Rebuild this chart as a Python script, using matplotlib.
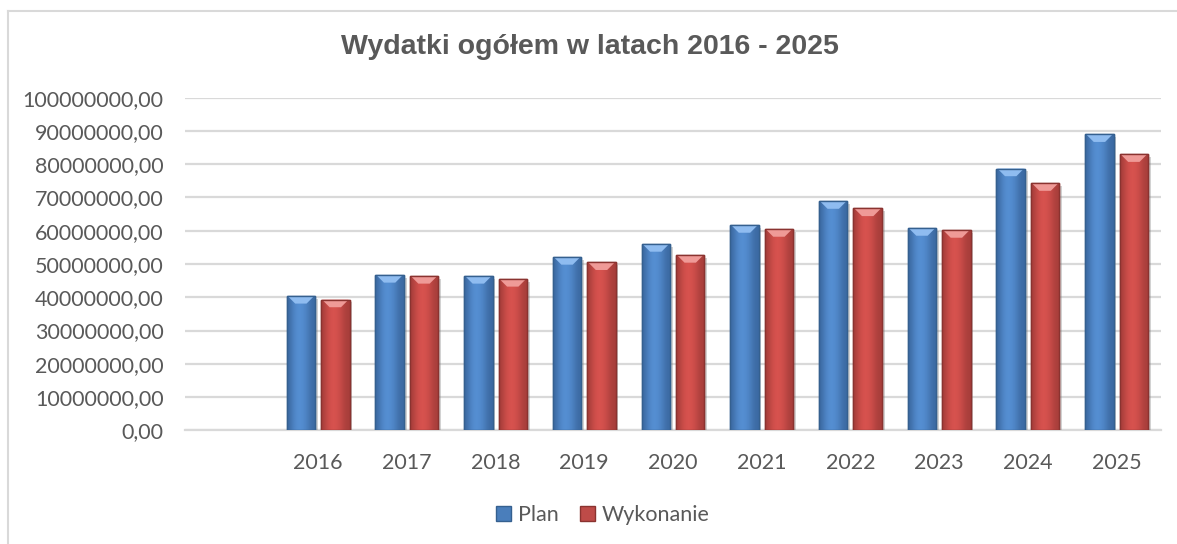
import numpy as np
import matplotlib
matplotlib.use("Agg")
import matplotlib.pyplot as plt
from matplotlib.patches import Patch, Polygon
from matplotlib.lines import Line2D
import matplotlib.patheffects as pe
from matplotlib.colors import LinearSegmentedColormap

# ---- data ----
categories = ["", "2016", "2017", "2018", "2019", "2020", "2021", "2022", "2023", "2024", "2025"]
plan = [np.nan, 40.4e6, 46.7e6, 46.4e6, 52.1e6, 56.0e6, 61.7e6, 68.9e6, 60.8e6, 78.7e6, 89.0e6]
wykonanie = [np.nan, 39.3e6, 46.4e6, 45.5e6, 50.5e6, 52.7e6, 60.5e6, 66.7e6, 60.2e6, 74.3e6, 83.0e6]
series_names = ["Plan", "Wykonanie"]
title = "Wydatki ogółem w latach 2016 - 2025"
yticks = np.arange(0, 100e6 + 1, 10e6)

# ---- style ----
W, H = 1177, 544
fig = plt.figure(figsize=(W / 100, H / 100), dpi=100)
ax = fig.add_axes([185 / W, 1 - 430.3 / H, (1161 - 185) / W, (430.3 - 97.7) / H])

txt_color = "#595959"
grid_color = "#d9d9d9"
tick_font = "Lato"
tick_size = 15.5

styles = [
    dict(edge="#35608f", dark="#3c6aa3", light="#5690d4", bevel="#8fbcf0", legend="#4a7ebb"),
    dict(edge="#8a3330", dark="#a83e3b", light="#d9534f", bevel="#ef9a97", legend="#be4b48"),
]

bw = 0.32
gap = 0.068
offsets = [-(bw / 2 + gap / 2), (bw / 2 + gap / 2)]
x = np.arange(len(categories))

ax.set_xlim(-0.5, len(categories) - 0.5)
ax.set_ylim(0, 100e6)

grad = np.array([[0.0, 0.5, 0.85, 1.0, 0.85, 0.6, 0.2, 0.0]])
bevel_h = 2.3e6

for si, vals in enumerate([plan, wykonanie]):
    st = styles[si]
    cmap = LinearSegmentedColormap.from_list("g%d" % si, [st["dark"], st["light"]])
    bars = ax.bar(x + offsets[si], vals, width=bw, color=st["light"], edgecolor=st["edge"],
                  linewidth=1.0, zorder=3,
                  path_effects=[pe.SimplePatchShadow(offset=(2, -2), shadow_rgbFace="#808080", alpha=0.35),
                                pe.Normal()])
    for b, v in zip(bars, vals):
        if np.isnan(v):
            continue
        x0 = b.get_x()
        x1 = x0 + b.get_width()
        im = ax.imshow(grad, cmap=cmap, aspect="auto", extent=[x0, x1, 0, v],
                       interpolation="bicubic", zorder=3.5)
        im.set_clip_path(b)
        xc = (x0 + x1) / 2
        poly = Polygon([(x0 + 0.01, v), (x1 - 0.01, v), (xc + bw * 0.2, v - bevel_h),
                        (xc - bw * 0.2, v - bevel_h)], closed=True,
                       facecolor=st["bevel"], edgecolor="none", zorder=3.8)
        ax.add_patch(poly)
        ax.add_patch(plt.Rectangle((x0, 0), bw, v, fill=False, edgecolor=st["edge"],
                                   linewidth=1.0, zorder=3.9))

ax.set_xlim(-0.5, len(categories) - 0.5)
ax.set_ylim(0, 100e6)

ax.set_yticks(yticks)
ax.set_yticklabels([("%.2f" % v).replace(".", ",") for v in yticks])
ax.set_xticks(x)
ax.set_xticklabels(categories)
ax.tick_params(axis="both", length=0, labelsize=tick_size, labelcolor=txt_color)
ax.tick_params(axis="y", pad=15.5)
ax.tick_params(axis="x", pad=16)
for lab in ax.get_xticklabels() + ax.get_yticklabels():
    lab.set_fontfamily(tick_font)

ax.grid(axis="y", color=grid_color, linewidth=1.6, zorder=0)
ax.set_axisbelow(True)
for s in ["top", "right", "left"]:
    ax.spines[s].set_visible(False)
ax.spines["bottom"].set_color(grid_color)
ax.spines["bottom"].set_linewidth(1.6)

fig.text(590 / W, 1 - 47 / H, title, ha="center", va="center", fontsize=20.5,
         fontweight="bold", color=txt_color, family="Liberation Sans")

handles = [Patch(facecolor=styles[i]["legend"], edgecolor=styles[i]["edge"], label=series_names[i])
           for i in range(2)]
fig.legend(handles=handles, loc="center", bbox_to_anchor=(603 / W, 1 - 515 / H), ncol=2,
           frameon=False, prop={"family": tick_font, "size": tick_size}, labelcolor=txt_color,
           handlelength=0.7, handleheight=0.7, handletextpad=0.3, columnspacing=1.0)

# chart frame (left and top edges visible)
fig.add_artist(Line2D([7.5 / W, 7.5 / W], [0, 1 - 11 / H], color=grid_color, linewidth=1.5))
fig.add_artist(Line2D([7.5 / W, 1], [1 - 11 / H, 1 - 11 / H], color=grid_color, linewidth=1.5))

fig.savefig("out.png", dpi=100, facecolor="white")
